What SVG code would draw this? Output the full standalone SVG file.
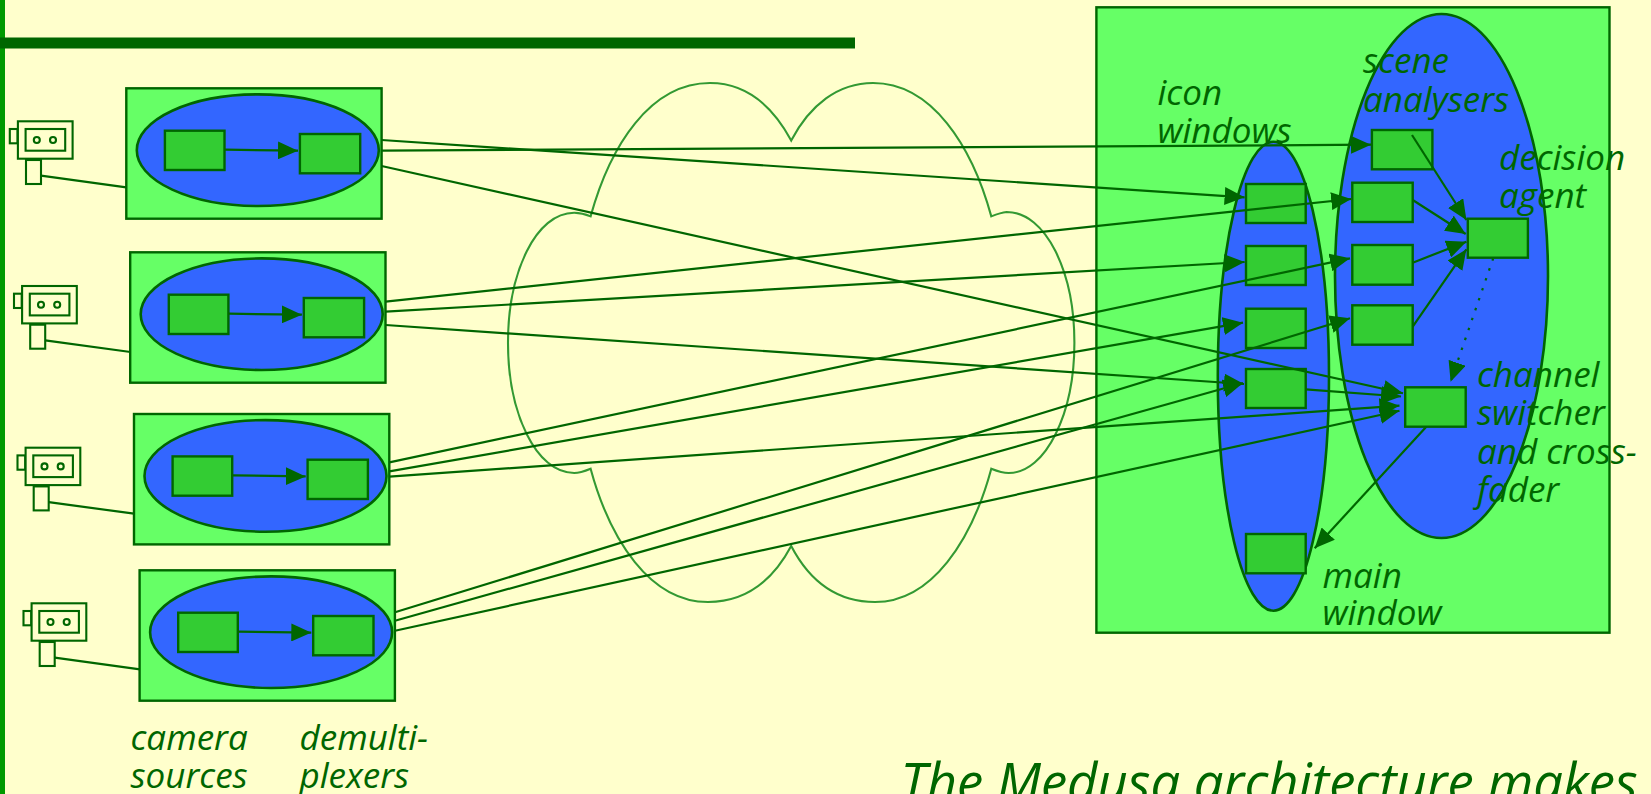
<svg xmlns="http://www.w3.org/2000/svg" width="1651" height="794" viewBox="0 0 1651 794">
<style>
.o{fill:#66FF66;stroke:#006600;stroke-width:2.4}
.e{fill:#3366FF;stroke:#006600;stroke-width:2.6}
.b{fill:#33CC33;stroke:#006600;stroke-width:2.4}
.c{fill:#FFFFCC;stroke:#006600;stroke-width:2.1}
.l{fill:none;stroke:#006600;stroke-width:2.2}
.a{fill:none;stroke:#006600;stroke-width:2.2;marker-end:url(#h)}
.t{font-family:"Open Sans",sans-serif;font-style:italic;font-size:35px;fill:#006600}
</style>
<defs>
<marker id="h" markerUnits="userSpaceOnUse" markerWidth="20" markerHeight="18" viewBox="0 0 20 18" refX="20" refY="9" orient="auto"><path d="M0 0L20 9L0 18Z" fill="#006600"/></marker>
<g id="cam">
<rect class="c" x="9.8" y="129" width="7.7" height="14.3"/>
<rect class="c" x="17.9" y="121.3" width="54.7" height="37.4"/>
<rect class="c" x="25.6" y="129" width="39.6" height="21.7"/>
<circle class="c" cx="36.8" cy="140" r="3"/><circle class="c" cx="53" cy="140" r="3"/>
<rect class="c" x="26" y="160" width="15" height="24"/>
<path class="l" d="M41 175.7L126.3 187.3"/>
</g>
<g id="dm">
<rect class="o" x="126.3" y="88.3" width="255.3" height="130.4"/>
<ellipse class="e" cx="257.8" cy="150.2" rx="121" ry="55.8"/>
<rect class="b" x="164.9" y="130.7" width="59.6" height="39.3"/>
<rect class="b" x="299.9" y="134" width="60.3" height="39.3"/>
<path class="a" d="M225 149.7L298 150.7"/>
</g>
</defs>
<rect width="1651" height="794" fill="#FFFFCC"/>
<rect id="sidebar" x="0" y="0" width="5" height="794" fill="#009900"/>
<rect id="rule" x="0" y="37.5" width="855" height="11" fill="#006600"/>
<path id="cloud" fill="none" stroke="#339933" stroke-width="2.1" d="M590.6 216.4C610 146 650 83 710 83C745 83 772 105 791.2 140.5C810 105 838 83 873 83C932 83 972 146 991.3 216.4C996 214.5 1001 212.5 1006.6 212C1046 212 1074.4 272 1074.4 342.7C1074.4 413 1046 473 1008.6 473C1003 473 997 471 991.3 468.7C972 540 932 602 875 602C838 602 810 582 791.2 546C772 582 745 602 708 602C650 602 610 540 590.6 468.7C585 471 580 473 574.2 473C536 473 508 413 508 342.7C508 272 536 212.8 574.2 212.8C580 212.8 585 214 590.6 216.4Z"/>
<g id="camera1"><use href="#cam"/></g>
<g id="camera2"><use href="#cam" x="4.2" y="164.7"/></g>
<g id="camera3"><use href="#cam" x="7.7" y="326.4"/></g>
<g id="camera4"><use href="#cam" x="13.7" y="482"/></g>
<g id="demux1"><use href="#dm"/></g>
<g id="demux2"><use href="#dm" x="3.9" y="164"/></g>
<g id="demux3"><use href="#dm" x="7.7" y="325.7"/></g>
<g id="demux4"><use href="#dm" x="13.3" y="482"/></g>
<g id="medusa">
<rect class="o" x="1096.4" y="7.3" width="513.1" height="625.4"/>
<ellipse class="e" cx="1273.4" cy="376.2" rx="55.6" ry="234.5"/>
<ellipse class="e" cx="1441.5" cy="276" rx="106.5" ry="262"/>
</g>
<g id="icon1"><rect class="b" x="1246" y="184" width="59.7" height="39"/></g>
<g id="icon2"><rect class="b" x="1246" y="246" width="59.7" height="39"/></g>
<g id="icon3"><rect class="b" x="1246" y="308.7" width="59.7" height="39.3"/></g>
<g id="icon4"><rect class="b" x="1246" y="369" width="59.7" height="39"/></g>
<g id="mainwin"><rect class="b" x="1246" y="534" width="59.7" height="39.3"/></g>
<g id="scene1"><rect class="b" x="1371.9" y="130" width="60.5" height="39.3"/></g>
<g id="scene2"><rect class="b" x="1352.3" y="182.7" width="60.4" height="39.3"/></g>
<g id="scene3"><rect class="b" x="1352.3" y="245" width="60.4" height="39.7"/></g>
<g id="scene4"><rect class="b" x="1352.3" y="305.3" width="60.4" height="39.4"/></g>
<g id="decision"><rect class="b" x="1467.8" y="218.7" width="60.1" height="39"/></g>
<g id="channel"><rect class="b" x="1405.2" y="387.3" width="60.5" height="39.4"/></g>
<g id="connectors">
<path class="a" d="M381.6 150.7L1371 144.7"/>
<path class="a" d="M381.6 140L1244.6 197.3"/>
<path class="a" d="M381.6 166L1403 393.3"/>
<path class="a" d="M385.6 301.7L1351.2 199"/>
<path class="a" d="M385.6 311.7L1244.6 262"/>
<path class="a" d="M385.6 325L1244 384"/>
<path class="a" d="M389.3 462.3L1350 258.3"/>
<path class="a" d="M389.3 471.3L1243 322.7"/>
<path class="a" d="M389.3 476.7L1399.5 405.7"/>
<path class="a" d="M395 612.3L1350 318.3"/>
<path class="a" d="M395 620.7L1243 383"/>
<path class="a" d="M395 630.7L1399.5 410.7"/>
<path class="a" d="M1305.7 389.3L1401 396.5"/>
<path class="a" d="M1412 135L1466.4 220"/>
<path class="a" d="M1412.7 200L1465.7 234"/>
<path class="a" d="M1412.7 262.7L1466.4 241.7"/>
<path class="a" d="M1412.7 326.7L1466.4 249.3"/>
<path class="a" stroke-dasharray="2.5 8" d="M1493.2 258.3L1450.6 381.7"/>
<path class="a" d="M1426.3 426.7L1314.7 548.3"/>
</g>
<g id="labels">
<text class="t" x="130.5" y="750">camera</text>
<text class="t" x="130.5" y="787.7">sources</text>
<text class="t" x="299.5" y="750">demulti-</text>
<text class="t" x="299.5" y="787.7">plexers</text>
<text class="t" x="1157.5" y="105">icon</text>
<text class="t" x="1157.5" y="143">windows</text>
<text class="t" x="1363" y="73">scene</text>
<text class="t" x="1363" y="112">analysers</text>
<text class="t" x="1499" y="170">decision</text>
<text class="t" x="1499" y="208">agent</text>
<text class="t" x="1477" y="387">channel</text>
<text class="t" x="1477" y="425.3">switcher</text>
<text class="t" x="1477" y="464.3">and cross-</text>
<text class="t" x="1477" y="502">fader</text>
<text class="t" x="1322.5" y="587.7">main</text>
<text class="t" x="1322.5" y="625.3">window</text>
<text class="t" x="900.5" y="801" style="font-size:52.6px">The Medusa architecture makes</text>
</g>
</svg>
